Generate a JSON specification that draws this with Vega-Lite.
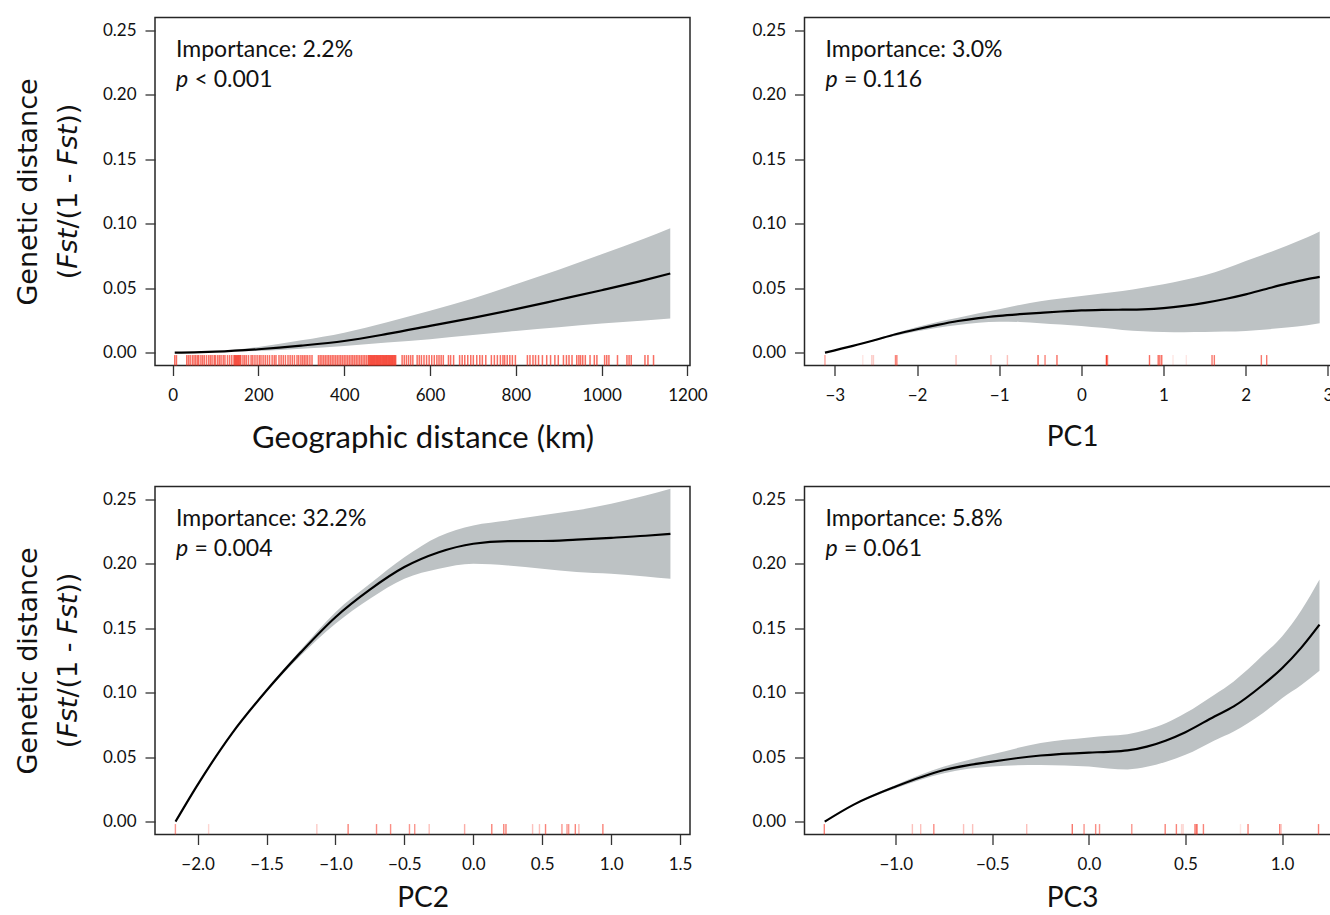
{
  "$schema": "https://vega.github.io/schema/vega-lite/v6.json",
  "padding": {"left": 13, "top": 16.5, "right": 0, "bottom": 0},
  "background": "white",
  "columns": 2,
  "bounds": "flush",
  "spacing": {"row": 121, "column": 114.5},
  "datasets": {
    "geo": [
      {"x": 5, "fit": 0, "lo": 0, "hi": 0},
      {"x": 50, "fit": 0.0002, "lo": 0.0001, "hi": 0.0003},
      {"x": 100, "fit": 0.0007, "lo": 0.0005, "hi": 0.0009},
      {"x": 200, "fit": 0.0026, "lo": 0.0013, "hi": 0.0044},
      {"x": 300, "fit": 0.0054, "lo": 0.003, "hi": 0.0095},
      {"x": 400, "fit": 0.009, "lo": 0.0052, "hi": 0.0155},
      {"x": 500, "fit": 0.0145, "lo": 0.0078, "hi": 0.0235},
      {"x": 600, "fit": 0.0207, "lo": 0.0104, "hi": 0.0324},
      {"x": 700, "fit": 0.027, "lo": 0.0136, "hi": 0.042},
      {"x": 800, "fit": 0.0337, "lo": 0.0168, "hi": 0.053},
      {"x": 900, "fit": 0.041, "lo": 0.0197, "hi": 0.0643},
      {"x": 1000, "fit": 0.0484, "lo": 0.0225, "hi": 0.0764},
      {"x": 1100, "fit": 0.0562, "lo": 0.025, "hi": 0.0885},
      {"x": 1160, "fit": 0.0614, "lo": 0.0264, "hi": 0.0964}
    ],
    "geo_rug": [
      {"x": 5}, {"x": 9}, {"x": 33}, {"x": 37}, {"x": 41}, {"x": 46}, {"x": 50}, {"x": 54}, {"x": 58}, {"x": 61},
      {"x": 66}, {"x": 70}, {"x": 74}, {"x": 79}, {"x": 84}, {"x": 88}, {"x": 92}, {"x": 97}, {"x": 100}, {"x": 105},
      {"x": 109}, {"x": 113}, {"x": 118}, {"x": 122}, {"x": 128}, {"x": 133}, {"x": 138}, {"x": 143}, {"x": 145}, {"x": 147},
      {"x": 149}, {"x": 151}, {"x": 153}, {"x": 155}, {"x": 157}, {"x": 159}, {"x": 164}, {"x": 168}, {"x": 172}, {"x": 177},
      {"x": 183}, {"x": 187}, {"x": 192}, {"x": 197}, {"x": 202}, {"x": 206}, {"x": 211}, {"x": 216}, {"x": 221}, {"x": 226},
      {"x": 232}, {"x": 237}, {"x": 241}, {"x": 248}, {"x": 253}, {"x": 258}, {"x": 263}, {"x": 269}, {"x": 274}, {"x": 279},
      {"x": 284}, {"x": 290}, {"x": 294}, {"x": 299}, {"x": 303}, {"x": 307}, {"x": 311}, {"x": 315}, {"x": 320}, {"x": 325},
      {"x": 340}, {"x": 344}, {"x": 348}, {"x": 352}, {"x": 356}, {"x": 360}, {"x": 364}, {"x": 368}, {"x": 372}, {"x": 376},
      {"x": 380}, {"x": 384}, {"x": 388}, {"x": 392}, {"x": 396}, {"x": 400}, {"x": 404}, {"x": 408}, {"x": 412}, {"x": 416},
      {"x": 420}, {"x": 424}, {"x": 428}, {"x": 432}, {"x": 436}, {"x": 440}, {"x": 444}, {"x": 448}, {"x": 452}, {"x": 456},
      {"x": 458}, {"x": 460}, {"x": 462}, {"x": 464}, {"x": 466}, {"x": 468}, {"x": 470}, {"x": 472}, {"x": 474}, {"x": 476},
      {"x": 478}, {"x": 480}, {"x": 482}, {"x": 484}, {"x": 486}, {"x": 488}, {"x": 490}, {"x": 492}, {"x": 494}, {"x": 496},
      {"x": 498}, {"x": 500}, {"x": 502}, {"x": 504}, {"x": 506}, {"x": 508}, {"x": 510}, {"x": 512}, {"x": 514}, {"x": 516},
      {"x": 518}, {"x": 520}, {"x": 535}, {"x": 540}, {"x": 545}, {"x": 550}, {"x": 555}, {"x": 560}, {"x": 570}, {"x": 575},
      {"x": 580}, {"x": 586}, {"x": 592}, {"x": 598}, {"x": 604}, {"x": 610}, {"x": 616}, {"x": 621}, {"x": 626}, {"x": 631},
      {"x": 643}, {"x": 648}, {"x": 655}, {"x": 669}, {"x": 675}, {"x": 681}, {"x": 688}, {"x": 695}, {"x": 701}, {"x": 709},
      {"x": 716}, {"x": 722}, {"x": 730}, {"x": 743}, {"x": 750}, {"x": 757}, {"x": 764}, {"x": 770}, {"x": 774}, {"x": 780},
      {"x": 786}, {"x": 792}, {"x": 799}, {"x": 827}, {"x": 833}, {"x": 840}, {"x": 846}, {"x": 853}, {"x": 862}, {"x": 872},
      {"x": 881}, {"x": 891}, {"x": 899}, {"x": 911}, {"x": 918}, {"x": 924}, {"x": 931}, {"x": 942}, {"x": 947}, {"x": 951},
      {"x": 956}, {"x": 962}, {"x": 973}, {"x": 983}, {"x": 989}, {"x": 1007}, {"x": 1012}, {"x": 1017}, {"x": 1037}, {"x": 1059},
      {"x": 1064}, {"x": 1069}, {"x": 1101}, {"x": 1108}, {"x": 1121}
    ],
    "pc1": [
      {"x": -3.12, "fit": 0, "lo": 0, "hi": 0},
      {"x": -2.78, "fit": 0.0052, "lo": 0.0049, "hi": 0.0055},
      {"x": -2.52, "fit": 0.0096, "lo": 0.009, "hi": 0.0102},
      {"x": -2.26, "fit": 0.0142, "lo": 0.0131, "hi": 0.0153},
      {"x": -2.0, "fit": 0.0181, "lo": 0.0166, "hi": 0.0199},
      {"x": -1.75, "fit": 0.0215, "lo": 0.0193, "hi": 0.0238},
      {"x": -1.5, "fit": 0.0245, "lo": 0.0215, "hi": 0.0271},
      {"x": -1.25, "fit": 0.0268, "lo": 0.0232, "hi": 0.0305},
      {"x": -1.0, "fit": 0.0285, "lo": 0.024, "hi": 0.0337},
      {"x": -0.75, "fit": 0.0298, "lo": 0.0238, "hi": 0.037},
      {"x": -0.5, "fit": 0.0309, "lo": 0.0228, "hi": 0.0398},
      {"x": -0.25, "fit": 0.0319, "lo": 0.0218, "hi": 0.042},
      {"x": 0.0, "fit": 0.0327, "lo": 0.0207, "hi": 0.044},
      {"x": 0.25, "fit": 0.0331, "lo": 0.0192, "hi": 0.0458},
      {"x": 0.5, "fit": 0.0333, "lo": 0.0176, "hi": 0.0478},
      {"x": 0.75, "fit": 0.0336, "lo": 0.0165, "hi": 0.0503},
      {"x": 1.0, "fit": 0.0345, "lo": 0.016, "hi": 0.053},
      {"x": 1.25, "fit": 0.0362, "lo": 0.0158, "hi": 0.0563},
      {"x": 1.5, "fit": 0.0386, "lo": 0.0159, "hi": 0.06},
      {"x": 1.75, "fit": 0.0416, "lo": 0.0163, "hi": 0.065},
      {"x": 2.0, "fit": 0.0452, "lo": 0.0168, "hi": 0.071},
      {"x": 2.25, "fit": 0.0494, "lo": 0.018, "hi": 0.0768},
      {"x": 2.5, "fit": 0.0535, "lo": 0.0194, "hi": 0.083},
      {"x": 2.75, "fit": 0.057, "lo": 0.0212, "hi": 0.0895},
      {"x": 2.9, "fit": 0.0587, "lo": 0.0228, "hi": 0.094}
    ],
    "pc1_rug": [
      {"x": -3.12, "weight": 0.45}, {"x": -2.66, "weight": 0.12}, {"x": -2.55, "weight": 0.25}, {"x": -2.53, "weight": 0.25},
      {"x": -2.262, "weight": 0.6}, {"x": -2.245, "weight": 0.6}, {"x": -1.525, "weight": 0.3}, {"x": -1.1, "weight": 0.3},
      {"x": -0.9, "weight": 0.3}, {"x": -0.527, "weight": 0.75}, {"x": -0.442, "weight": 0.6}, {"x": -0.297, "weight": 0.7},
      {"x": 0.305, "weight": 0.9}, {"x": 0.318, "weight": 0.6}, {"x": 0.829, "weight": 0.7}, {"x": 0.935, "weight": 0.7},
      {"x": 0.955, "weight": 0.7}, {"x": 0.978, "weight": 0.7}, {"x": 1.115, "weight": 0.12}, {"x": 1.277, "weight": 0.12},
      {"x": 1.59, "weight": 0.65}, {"x": 1.618, "weight": 0.65}, {"x": 2.19, "weight": 0.65}, {"x": 2.255, "weight": 0.65}
    ],
    "pc2": [
      {"x": -2.16, "fit": 0, "lo": 0, "hi": 0},
      {"x": -2.0, "fit": 0.0285, "lo": 0.0284, "hi": 0.0286},
      {"x": -1.75, "fit": 0.0685, "lo": 0.0682, "hi": 0.0688},
      {"x": -1.5, "fit": 0.1017, "lo": 0.1005, "hi": 0.1025},
      {"x": -1.25, "fit": 0.1315, "lo": 0.129, "hi": 0.1335},
      {"x": -1.0, "fit": 0.1586, "lo": 0.1535, "hi": 0.1625},
      {"x": -0.75, "fit": 0.18, "lo": 0.1729, "hi": 0.1845},
      {"x": -0.5, "fit": 0.1975, "lo": 0.1884, "hi": 0.2052},
      {"x": -0.25, "fit": 0.209, "lo": 0.1962, "hi": 0.2213},
      {"x": 0.0, "fit": 0.2156, "lo": 0.2001, "hi": 0.2298},
      {"x": 0.25, "fit": 0.2176, "lo": 0.1988, "hi": 0.2337},
      {"x": 0.5, "fit": 0.2177, "lo": 0.1962, "hi": 0.2376},
      {"x": 0.75, "fit": 0.2188, "lo": 0.1936, "hi": 0.2415},
      {"x": 1.0, "fit": 0.2202, "lo": 0.1923, "hi": 0.2466},
      {"x": 1.25, "fit": 0.2218, "lo": 0.1902, "hi": 0.253},
      {"x": 1.43, "fit": 0.2233, "lo": 0.1884, "hi": 0.2583}
    ],
    "pc2_rug": [
      {"x": -2.161, "weight": 0.5}, {"x": -1.92, "weight": 0.2}, {"x": -1.135, "weight": 0.25}, {"x": -0.908, "weight": 0.6},
      {"x": -0.702, "weight": 0.55}, {"x": -0.6, "weight": 0.55}, {"x": -0.463, "weight": 0.5}, {"x": -0.425, "weight": 0.5},
      {"x": -0.32, "weight": 0.3}, {"x": -0.063, "weight": 0.4}, {"x": 0.134, "weight": 0.6}, {"x": 0.221, "weight": 0.6},
      {"x": 0.237, "weight": 0.6}, {"x": 0.43, "weight": 0.3}, {"x": 0.48, "weight": 0.3}, {"x": 0.524, "weight": 0.6},
      {"x": 0.643, "weight": 0.5}, {"x": 0.68, "weight": 0.5}, {"x": 0.692, "weight": 0.5}, {"x": 0.74, "weight": 0.6},
      {"x": 0.766, "weight": 0.35}, {"x": 0.94, "weight": 0.6}
    ],
    "pc3": [
      {"x": -1.368, "fit": 0, "lo": 0, "hi": 0},
      {"x": -1.22, "fit": 0.013, "lo": 0.0125, "hi": 0.0135},
      {"x": -1.0, "fit": 0.0272, "lo": 0.0259, "hi": 0.0285},
      {"x": -0.75, "fit": 0.04, "lo": 0.0376, "hi": 0.0427},
      {"x": -0.5, "fit": 0.0466, "lo": 0.0427, "hi": 0.0523},
      {"x": -0.25, "fit": 0.0513, "lo": 0.044, "hi": 0.0609},
      {"x": 0.0, "fit": 0.0536, "lo": 0.0427, "hi": 0.0653},
      {"x": 0.1, "fit": 0.0541, "lo": 0.0412, "hi": 0.0666},
      {"x": 0.2, "fit": 0.0552, "lo": 0.0405, "hi": 0.0678},
      {"x": 0.3, "fit": 0.0582, "lo": 0.0425, "hi": 0.0712},
      {"x": 0.4, "fit": 0.063, "lo": 0.0465, "hi": 0.0765},
      {"x": 0.5, "fit": 0.0694, "lo": 0.0518, "hi": 0.0842},
      {"x": 0.65, "fit": 0.0816, "lo": 0.063, "hi": 0.0985},
      {"x": 0.75, "fit": 0.0894, "lo": 0.0699, "hi": 0.1088},
      {"x": 0.9, "fit": 0.106, "lo": 0.084, "hi": 0.129},
      {"x": 1.0, "fit": 0.119, "lo": 0.0958, "hi": 0.1437},
      {"x": 1.1, "fit": 0.135, "lo": 0.106, "hi": 0.164},
      {"x": 1.194, "fit": 0.1528, "lo": 0.117, "hi": 0.1878}
    ],
    "pc3_rug": [
      {"x": -1.37, "weight": 0.6}, {"x": -0.914, "weight": 0.3}, {"x": -0.871, "weight": 0.3}, {"x": -0.803, "weight": 0.55},
      {"x": -0.649, "weight": 0.3}, {"x": -0.602, "weight": 0.3}, {"x": -0.322, "weight": 0.3}, {"x": -0.086, "weight": 0.65},
      {"x": -0.025, "weight": 0.5}, {"x": 0.035, "weight": 0.55}, {"x": 0.055, "weight": 0.5}, {"x": 0.222, "weight": 0.5},
      {"x": 0.395, "weight": 0.6}, {"x": 0.453, "weight": 0.6}, {"x": 0.48, "weight": 0.2}, {"x": 0.488, "weight": 0.2},
      {"x": 0.549, "weight": 0.6}, {"x": 0.556, "weight": 0.6}, {"x": 0.561, "weight": 0.5}, {"x": 0.593, "weight": 0.6},
      {"x": 0.785, "weight": 0.12}, {"x": 0.824, "weight": 0.6}, {"x": 0.988, "weight": 0.6}, {"x": 0.996, "weight": 0.25},
      {"x": 1.189, "weight": 0.6}
    ],
    "notes": [
      {"panel": "geo", "imp": "Importance: 2.2%", "pv": "< 0.001"},
      {"panel": "pc1", "imp": "Importance: 3.0%", "pv": "= 0.116"},
      {"panel": "pc2", "imp": "Importance: 32.2%", "pv": "= 0.004"},
      {"panel": "pc3", "imp": "Importance: 5.8%", "pv": "= 0.061"}
    ]
  },
  "concat": [
    {
      "width": 535, "height": 348,
      "layer": [
        {"data": {"name": "geo"}, "mark": {"type": "area", "color": "#bdc2c4", "interpolate": "monotone"},
         "encoding": {
           "x": {"field": "x", "type": "quantitative", "scale": {"domain": [-41, 1206], "nice": false, "zero": false},
                 "axis": {"values": [0, 200, 400, 600, 800, 1000, 1200], "format": "d", "title": "Geographic distance (km)", "titleFontSize": 31}},
           "y": {"field": "lo", "type": "quantitative", "scale": {"domain": [-0.01, 0.26], "nice": false, "zero": false},
                 "axis": {"values": [0, 0.05, 0.1, 0.15, 0.2, 0.25], "format": ".2f", "title": "Genetic distance"}},
           "y2": {"field": "hi"}}},
        {"data": {"name": "geo"}, "mark": {"type": "line", "color": "#000", "strokeWidth": 2.2, "interpolate": "monotone"},
         "encoding": {"x": {"field": "x", "type": "quantitative"}, "y": {"field": "fit", "type": "quantitative"}}},
        {"data": {"name": "geo_rug"}, "mark": {"type": "rule", "color": "#f5301f", "strokeWidth": 1.5, "opacity": 0.7},
         "encoding": {"x": {"field": "x", "type": "quantitative"}, "y": {"datum": -0.01, "type": "quantitative"}, "y2": {"datum": -0.0019}}},
        {"data": {"name": "notes"}, "transform": [{"filter": "datum.panel === 'geo'"}],
         "mark": {"type": "text", "align": "left", "baseline": "alphabetic", "font": "Lato", "fontSize": 23, "color": "#111"},
         "encoding": {"x": {"datum": 8, "type": "quantitative"}, "y": {"datum": 0.229, "type": "quantitative"}, "text": {"field": "imp"}}},
        {"data": {"name": "notes"}, "transform": [{"filter": "datum.panel === 'geo'"}],
         "mark": {"type": "text", "align": "left", "baseline": "alphabetic", "font": "Lato", "fontSize": 23, "fontStyle": "italic", "color": "#111", "text": "p"},
         "encoding": {"x": {"datum": 8, "type": "quantitative"}, "y": {"datum": 0.206, "type": "quantitative"}}},
        {"data": {"name": "notes"}, "transform": [{"filter": "datum.panel === 'geo'"}],
         "mark": {"type": "text", "align": "left", "baseline": "alphabetic", "font": "Lato", "fontSize": 23, "color": "#111", "dx": 18.5},
         "encoding": {"x": {"datum": 8, "type": "quantitative"}, "y": {"datum": 0.206, "type": "quantitative"}, "text": {"field": "pv"}}},
        {"data": {"name": "notes"}, "transform": [{"filter": "datum.panel === 'geo'"}],
         "mark": {"type": "text", "text": "(", "angle": 270, "align": "left", "baseline": "alphabetic", "font": "DejaVu Sans", "fontSize": 27, "color": "#111", "dx": -87.8, "clip": false},
         "encoding": {"x": {"datum": -222.8, "type": "quantitative"}, "y": {"datum": 0.125, "type": "quantitative"}}},
        {"data": {"name": "notes"}, "transform": [{"filter": "datum.panel === 'geo'"}],
         "mark": {"type": "text", "text": "Fst", "angle": 270, "align": "left", "baseline": "alphabetic", "font": "DejaVu Sans", "fontStyle": "italic", "fontSize": 27, "color": "#111", "dx": -77.3, "clip": false},
         "encoding": {"x": {"datum": -222.8, "type": "quantitative"}, "y": {"datum": 0.125, "type": "quantitative"}}},
        {"data": {"name": "notes"}, "transform": [{"filter": "datum.panel === 'geo'"}],
         "mark": {"type": "text", "text": "/(1 -", "angle": 270, "align": "left", "baseline": "alphabetic", "font": "DejaVu Sans", "fontSize": 27, "color": "#111", "dx": -37.1, "clip": false},
         "encoding": {"x": {"datum": -222.8, "type": "quantitative"}, "y": {"datum": 0.125, "type": "quantitative"}}},
        {"data": {"name": "notes"}, "transform": [{"filter": "datum.panel === 'geo'"}],
         "mark": {"type": "text", "text": "Fst", "angle": 270, "align": "left", "baseline": "alphabetic", "font": "DejaVu Sans", "fontStyle": "italic", "fontSize": 27, "color": "#111", "dx": 26.6, "clip": false},
         "encoding": {"x": {"datum": -222.8, "type": "quantitative"}, "y": {"datum": 0.125, "type": "quantitative"}}},
        {"data": {"name": "notes"}, "transform": [{"filter": "datum.panel === 'geo'"}],
         "mark": {"type": "text", "text": "))", "angle": 270, "align": "left", "baseline": "alphabetic", "font": "DejaVu Sans", "fontSize": 27, "color": "#111", "dx": 66.8, "clip": false},
         "encoding": {"x": {"datum": -222.8, "type": "quantitative"}, "y": {"datum": 0.125, "type": "quantitative"}}}
      ]
    },
    {
      "width": 535, "height": 348,
      "layer": [
        {"data": {"name": "pc1"}, "mark": {"type": "area", "color": "#bdc2c4", "interpolate": "monotone"},
         "encoding": {
           "x": {"field": "x", "type": "quantitative", "scale": {"domain": [-3.369, 3.141], "nice": false, "zero": false},
                 "axis": {"values": [-3, -2, -1, 0, 1, 2, 3], "format": "d", "title": "PC1"}},
           "y": {"field": "lo", "type": "quantitative", "scale": {"domain": [-0.01, 0.26], "nice": false, "zero": false},
                 "axis": {"values": [0, 0.05, 0.1, 0.15, 0.2, 0.25], "format": ".2f", "title": null}},
           "y2": {"field": "hi"}}},
        {"data": {"name": "pc1"}, "mark": {"type": "line", "color": "#000", "strokeWidth": 2.2, "interpolate": "monotone"},
         "encoding": {"x": {"field": "x", "type": "quantitative"}, "y": {"field": "fit", "type": "quantitative"}}},
        {"data": {"name": "pc1_rug"}, "mark": {"type": "rule", "color": "#f5301f", "strokeWidth": 1.4},
         "encoding": {"x": {"field": "x", "type": "quantitative"}, "y": {"datum": -0.01, "type": "quantitative"}, "y2": {"datum": -0.0019},
                      "opacity": {"field": "weight", "type": "quantitative", "scale": {"domain": [0, 1], "range": [0, 1]}, "legend": null}}},
        {"data": {"name": "notes"}, "transform": [{"filter": "datum.panel === 'pc1'"}],
         "mark": {"type": "text", "align": "left", "baseline": "alphabetic", "font": "Lato", "fontSize": 23, "color": "#111"},
         "encoding": {"x": {"datum": -3.114, "type": "quantitative"}, "y": {"datum": 0.229, "type": "quantitative"}, "text": {"field": "imp"}}},
        {"data": {"name": "notes"}, "transform": [{"filter": "datum.panel === 'pc1'"}],
         "mark": {"type": "text", "align": "left", "baseline": "alphabetic", "font": "Lato", "fontSize": 23, "fontStyle": "italic", "color": "#111", "text": "p"},
         "encoding": {"x": {"datum": -3.114, "type": "quantitative"}, "y": {"datum": 0.206, "type": "quantitative"}}},
        {"data": {"name": "notes"}, "transform": [{"filter": "datum.panel === 'pc1'"}],
         "mark": {"type": "text", "align": "left", "baseline": "alphabetic", "font": "Lato", "fontSize": 23, "color": "#111", "dx": 18.5},
         "encoding": {"x": {"datum": -3.114, "type": "quantitative"}, "y": {"datum": 0.206, "type": "quantitative"}, "text": {"field": "pv"}}}
      ]
    },
    {
      "width": 535, "height": 348,
      "layer": [
        {"data": {"name": "pc2"}, "mark": {"type": "area", "color": "#bdc2c4", "interpolate": "monotone"},
         "encoding": {
           "x": {"field": "x", "type": "quantitative", "scale": {"domain": [-2.309, 1.572], "nice": false, "zero": false},
                 "axis": {"values": [-2, -1.5, -1, -0.5, 0, 0.5, 1, 1.5], "format": ".1f", "title": "PC2", "titlePadding": 12}},
           "y": {"field": "lo", "type": "quantitative", "scale": {"domain": [-0.01, 0.26], "nice": false, "zero": false},
                 "axis": {"values": [0, 0.05, 0.1, 0.15, 0.2, 0.25], "format": ".2f", "title": "Genetic distance"}},
           "y2": {"field": "hi"}}},
        {"data": {"name": "pc2"}, "mark": {"type": "line", "color": "#000", "strokeWidth": 2.2, "interpolate": "monotone"},
         "encoding": {"x": {"field": "x", "type": "quantitative"}, "y": {"field": "fit", "type": "quantitative"}}},
        {"data": {"name": "pc2_rug"}, "mark": {"type": "rule", "color": "#f5301f", "strokeWidth": 1.4},
         "encoding": {"x": {"field": "x", "type": "quantitative"}, "y": {"datum": -0.01, "type": "quantitative"}, "y2": {"datum": -0.0019},
                      "opacity": {"field": "weight", "type": "quantitative", "scale": {"domain": [0, 1], "range": [0, 1]}, "legend": null}}},
        {"data": {"name": "notes"}, "transform": [{"filter": "datum.panel === 'pc2'"}],
         "mark": {"type": "text", "align": "left", "baseline": "alphabetic", "font": "Lato", "fontSize": 23, "color": "#111"},
         "encoding": {"x": {"datum": -2.157, "type": "quantitative"}, "y": {"datum": 0.229, "type": "quantitative"}, "text": {"field": "imp"}}},
        {"data": {"name": "notes"}, "transform": [{"filter": "datum.panel === 'pc2'"}],
         "mark": {"type": "text", "align": "left", "baseline": "alphabetic", "font": "Lato", "fontSize": 23, "fontStyle": "italic", "color": "#111", "text": "p"},
         "encoding": {"x": {"datum": -2.157, "type": "quantitative"}, "y": {"datum": 0.206, "type": "quantitative"}}},
        {"data": {"name": "notes"}, "transform": [{"filter": "datum.panel === 'pc2'"}],
         "mark": {"type": "text", "align": "left", "baseline": "alphabetic", "font": "Lato", "fontSize": 23, "color": "#111", "dx": 18.5},
         "encoding": {"x": {"datum": -2.157, "type": "quantitative"}, "y": {"datum": 0.206, "type": "quantitative"}, "text": {"field": "pv"}}},
        {"data": {"name": "notes"}, "transform": [{"filter": "datum.panel === 'pc2'"}],
         "mark": {"type": "text", "text": "(", "angle": 270, "align": "left", "baseline": "alphabetic", "font": "DejaVu Sans", "fontSize": 27, "color": "#111", "dx": -87.8, "clip": false},
         "encoding": {"x": {"datum": -2.8748, "type": "quantitative"}, "y": {"datum": 0.125, "type": "quantitative"}}},
        {"data": {"name": "notes"}, "transform": [{"filter": "datum.panel === 'pc2'"}],
         "mark": {"type": "text", "text": "Fst", "angle": 270, "align": "left", "baseline": "alphabetic", "font": "DejaVu Sans", "fontStyle": "italic", "fontSize": 27, "color": "#111", "dx": -77.3, "clip": false},
         "encoding": {"x": {"datum": -2.8748, "type": "quantitative"}, "y": {"datum": 0.125, "type": "quantitative"}}},
        {"data": {"name": "notes"}, "transform": [{"filter": "datum.panel === 'pc2'"}],
         "mark": {"type": "text", "text": "/(1 -", "angle": 270, "align": "left", "baseline": "alphabetic", "font": "DejaVu Sans", "fontSize": 27, "color": "#111", "dx": -37.1, "clip": false},
         "encoding": {"x": {"datum": -2.8748, "type": "quantitative"}, "y": {"datum": 0.125, "type": "quantitative"}}},
        {"data": {"name": "notes"}, "transform": [{"filter": "datum.panel === 'pc2'"}],
         "mark": {"type": "text", "text": "Fst", "angle": 270, "align": "left", "baseline": "alphabetic", "font": "DejaVu Sans", "fontStyle": "italic", "fontSize": 27, "color": "#111", "dx": 26.6, "clip": false},
         "encoding": {"x": {"datum": -2.8748, "type": "quantitative"}, "y": {"datum": 0.125, "type": "quantitative"}}},
        {"data": {"name": "notes"}, "transform": [{"filter": "datum.panel === 'pc2'"}],
         "mark": {"type": "text", "text": "))", "angle": 270, "align": "left", "baseline": "alphabetic", "font": "DejaVu Sans", "fontSize": 27, "color": "#111", "dx": 66.8, "clip": false},
         "encoding": {"x": {"datum": -2.8748, "type": "quantitative"}, "y": {"datum": 0.125, "type": "quantitative"}}}
      ]
    },
    {
      "width": 535, "height": 348,
      "layer": [
        {"data": {"name": "pc3"}, "mark": {"type": "area", "color": "#bdc2c4", "interpolate": "monotone"},
         "encoding": {
           "x": {"field": "x", "type": "quantitative", "scale": {"domain": [-1.4726, 1.2976], "nice": false, "zero": false},
                 "axis": {"values": [-1, -0.5, 0, 0.5, 1], "format": ".1f", "title": "PC3", "titlePadding": 12}},
           "y": {"field": "lo", "type": "quantitative", "scale": {"domain": [-0.01, 0.26], "nice": false, "zero": false},
                 "axis": {"values": [0, 0.05, 0.1, 0.15, 0.2, 0.25], "format": ".2f", "title": null}},
           "y2": {"field": "hi"}}},
        {"data": {"name": "pc3"}, "mark": {"type": "line", "color": "#000", "strokeWidth": 2.2, "interpolate": "monotone"},
         "encoding": {"x": {"field": "x", "type": "quantitative"}, "y": {"field": "fit", "type": "quantitative"}}},
        {"data": {"name": "pc3_rug"}, "mark": {"type": "rule", "color": "#f5301f", "strokeWidth": 1.4},
         "encoding": {"x": {"field": "x", "type": "quantitative"}, "y": {"datum": -0.01, "type": "quantitative"}, "y2": {"datum": -0.0019},
                      "opacity": {"field": "weight", "type": "quantitative", "scale": {"domain": [0, 1], "range": [0, 1]}, "legend": null}}},
        {"data": {"name": "notes"}, "transform": [{"filter": "datum.panel === 'pc3'"}],
         "mark": {"type": "text", "align": "left", "baseline": "alphabetic", "font": "Lato", "fontSize": 23, "color": "#111"},
         "encoding": {"x": {"datum": -1.364, "type": "quantitative"}, "y": {"datum": 0.229, "type": "quantitative"}, "text": {"field": "imp"}}},
        {"data": {"name": "notes"}, "transform": [{"filter": "datum.panel === 'pc3'"}],
         "mark": {"type": "text", "align": "left", "baseline": "alphabetic", "font": "Lato", "fontSize": 23, "fontStyle": "italic", "color": "#111", "text": "p"},
         "encoding": {"x": {"datum": -1.364, "type": "quantitative"}, "y": {"datum": 0.206, "type": "quantitative"}}},
        {"data": {"name": "notes"}, "transform": [{"filter": "datum.panel === 'pc3'"}],
         "mark": {"type": "text", "align": "left", "baseline": "alphabetic", "font": "Lato", "fontSize": 23, "color": "#111", "dx": 18.5},
         "encoding": {"x": {"datum": -1.364, "type": "quantitative"}, "y": {"datum": 0.206, "type": "quantitative"}, "text": {"field": "pv"}}}
      ]
    }
  ],
  "config": {
    "view": {"stroke": "#262626", "strokeWidth": 1.5},
    "axis": {"domain": false, "grid": false, "ticks": true, "tickSize": 10, "tickColor": "#333", "tickWidth": 1.3,
             "labelFont": "Lato", "labelFontSize": 17, "labelColor": "#111", "labelFlush": false, "labelOverlap": false,
             "titleFont": "Lato", "titleFontSize": 28, "titleFontWeight": "normal", "titleColor": "#111"},
    "axisX": {"labelPadding": 12, "titlePadding": 20},
    "axisY": {"labelPadding": 9, "titleFont": "DejaVu Sans", "titleFontSize": 27, "titlePadding": 60}
  }
}
